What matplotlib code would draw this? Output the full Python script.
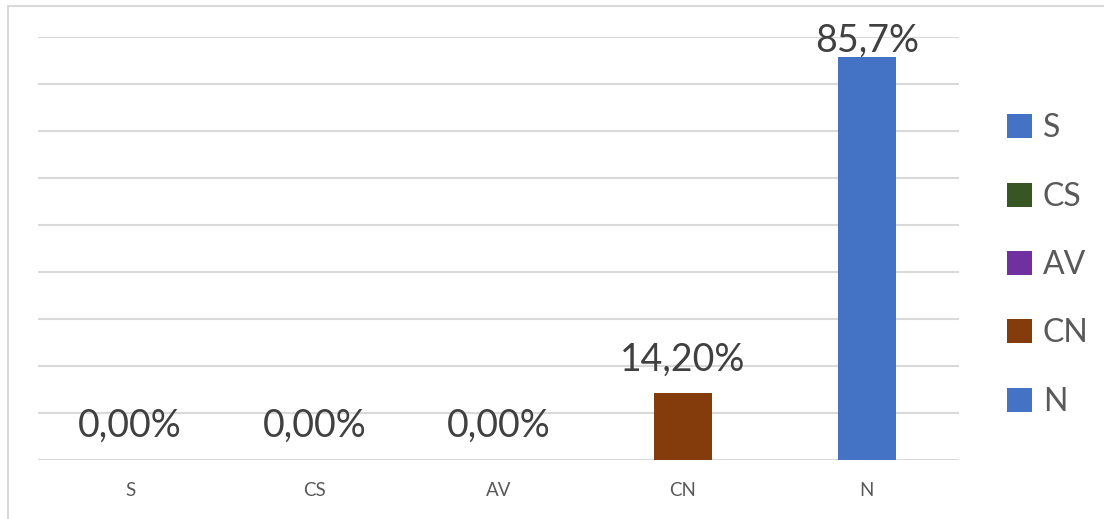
import matplotlib.pyplot as plt
from matplotlib.patches import Patch, Rectangle

categories = ["S", "CS", "AV", "CN", "N"]
values = [0.0, 0.0, 0.0, 14.2, 85.7]
value_labels = ["0,00%", "0,00%", "0,00%", "14,20%", "85,7%"]
colors = ["#4472C4", "#375623", "#7030A0", "#843C0C", "#4472C4"]

# label gap above each bar (points); last one squeezed under the top like Excel does
label_gap = [16.5, 16.5, 16.5, 16.5, 3.6]

plt.rcParams['font.family'] = ['Lato', 'DejaVu Sans']

fig = plt.figure(figsize=(11.04, 5.19), dpi=100)
W, H = 1104, 519
ax = fig.add_axes([38 / W, (H - 460) / H, (959 - 38) / W, (460 - 37) / H])

x = range(len(categories))
bars = ax.bar(x, values, width=0.315, color=colors, zorder=3)

for b, lab, gap in zip(bars, value_labels, label_gap):
    ax.annotate(lab, (b.get_x() + b.get_width() / 2, b.get_height()),
                xytext=(0, gap), textcoords='offset points',
                ha='center', va='baseline', fontsize=27, color='#404040', zorder=4)

ax.set_xlim(-0.5, len(categories) - 0.5)
ax.set_ylim(0, 90)
ax.set_yticks(range(0, 91, 10))
ax.yaxis.grid(True, color='#d9d9d9', linewidth=1.5, zorder=0)
ax.tick_params(axis='y', left=False, labelleft=False)
ax.set_xticks(list(x))
ax.set_xticklabels(categories)
ax.tick_params(axis='x', length=0, pad=16, labelsize=13.5, labelcolor='#595959')
for s in ax.spines.values():
    s.set_visible(False)

handles = [Patch(facecolor=c, edgecolor='none') for c in colors]
fig.legend(handles, categories, loc='center left', bbox_to_anchor=(978 / W, (H - 265) / H),
           frameon=False, fontsize=23, labelcolor='#595959',
           handlelength=0.78, handleheight=0.78, handletextpad=0.35, labelspacing=1.2)

# chart-area border from the spreadsheet
fig.add_artist(Rectangle((8 / W, -0.1), 2, (H - 6) / H + 0.1, transform=fig.transFigure,
                         fill=False, edgecolor='#d9d9d9', linewidth=1.5))

fig.savefig('out.png', dpi=100)
